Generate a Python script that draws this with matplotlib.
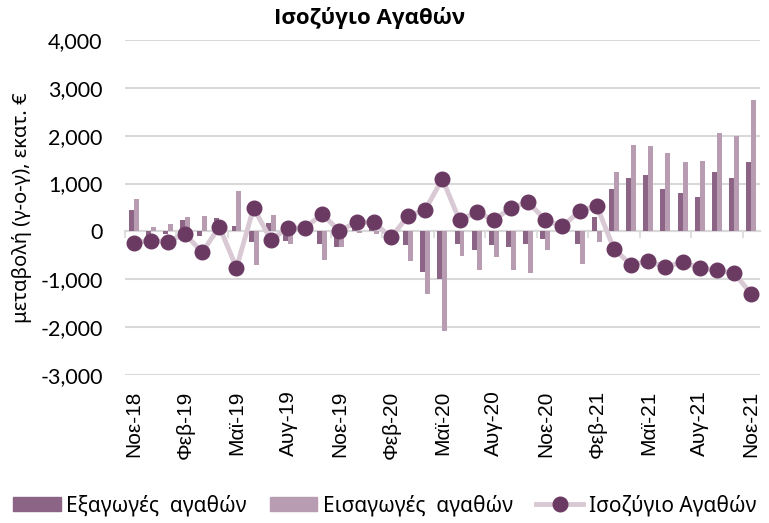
import numpy as np
import matplotlib
matplotlib.use('Agg')
import matplotlib.pyplot as plt
from matplotlib.lines import Line2D
from matplotlib.patches import Patch

# Μήνες: Νοε-18 έως Νοε-21
MONTHS = ['Ιαν', 'Φεβ', 'Μαρ', 'Απρ', 'Μαϊ', 'Ιουν', 'Ιουλ', 'Αυγ', 'Σεπ', 'Οκτ', 'Νοε', 'Δεκ']
labels = []
for k in range(37):
    m = (10 + k) % 12
    y = 18 + (10 + k) // 12
    labels.append(f'{MONTHS[m]}-{y}')

# μεταβολή (γ-ο-γ), εκατ. €
exports = [440, -100, -60, 245, -105, 285, 105, -225, 175, -190,
           20, -260, -330, 160, 150, -110, -290, -850, -1000, -270,
           -385, -290, -315, -260, -155, 80, -270, 300, 890, 1120,
           1175, 890, 805, 725, 1240, 1120, 1460]
imports = [670, 90, 145, 300, 320, 185, 855, -710, 350, -260,
           -60, -605, -330, -35, -45, 15, -620, -1315, -2090, -510,
           -800, -535, -815, -870, -395, -25, -690, -225, 1250, 1815,
           1780, 1640, 1455, 1480, 2060, 1985, 2755]
balance = [-240, -190, -215, -50, -440, 100, -760, 495, -175, 70,
           80, 360, 10, 195, 195, -125, 320, 450, 1100, 230,
           405, 235, 495, 610, 240, 105, 425, 530, -360, -700,
           -620, -745, -640, -765, -815, -870, -1300]

C_EXP = '#8C6485'
C_IMP = '#B89DB2'
C_LINE = '#D9C9D5'
C_MARK = '#6B3A63'
GRID = '#D9D9D9'

x = np.arange(len(labels))
w = 0.29

fig = plt.figure(figsize=(7.69, 5.23), dpi=100)
ax = fig.add_axes([0.1625, 0.283, 0.8255, 0.6405])

ax.bar(x - w / 2, exports, width=w, color=C_EXP, zorder=2)
ax.bar(x + w / 2, imports, width=w, color=C_IMP, zorder=2)
ax.plot(x, balance, color=C_LINE, lw=3.5, zorder=3)
ax.plot(x, balance, ls='none', marker='o', ms=10.5, color=C_MARK, zorder=4)

ax.set_xlim(-0.5, len(labels) - 0.5)
ax.set_ylim(-3000, 4000)
ax.set_yticks(np.arange(-3000, 4001, 1000))
ax.set_yticklabels([f'{v:,}' for v in range(-3000, 4001, 1000)],
                   fontfamily='Lato', fontsize=15.5)
ax.yaxis.grid(True, color=GRID, lw=1.5, zorder=0)
ax.tick_params(axis='y', length=0, pad=16)

for s in ['left', 'right', 'top']:
    ax.spines[s].set_visible(False)
ax.spines['bottom'].set_position(('data', 0))
ax.spines['bottom'].set_color(GRID)
ax.spines['bottom'].set_linewidth(1.5)
ax.spines['bottom'].set_zorder(1)
ax.set_xticks(np.arange(-0.5, len(labels), 3))
ax.tick_params(axis='x', length=5, width=1.2, color=GRID, labelbottom=False)

sec = ax.secondary_xaxis('bottom')
sec.set_xticks(x[::3])
sec.set_xticklabels(labels[::3], rotation=90, fontfamily='Liberation Sans', fontsize=15)
sec.tick_params(length=0, pad=11)
sec.spines['bottom'].set_visible(False)

ax.set_ylabel('μεταβολή (γ-ο-γ), εκατ. €', fontfamily='Noto Sans', fontsize=14.5, labelpad=6)
fig.text(370 / 769, 1 - 18 / 523, 'Ισοζύγιο Αγαθών', family=['Open Sans', 'DejaVu Sans'],
         fontweight='bold', fontsize=16, ha='center', va='center')

handles = [Patch(color=C_EXP), Patch(color=C_IMP),
           Line2D([], [], color=C_LINE, lw=3.5, marker='o', ms=10.5,
                  markerfacecolor=C_MARK, markeredgecolor=C_MARK)]
fig.legend(handles, ['Εξαγωγές  αγαθών', 'Εισαγωγές  αγαθών', 'Ισοζύγιο Αγαθών'],
           loc='lower center', bbox_to_anchor=(0.5, -0.015), ncol=3, frameon=False,
           prop={'family': 'Noto Sans', 'size': 15}, handlelength=2.3,
           columnspacing=1.1, handletextpad=0.25, borderpad=0.2)

fig.savefig('out.png', dpi=100)
